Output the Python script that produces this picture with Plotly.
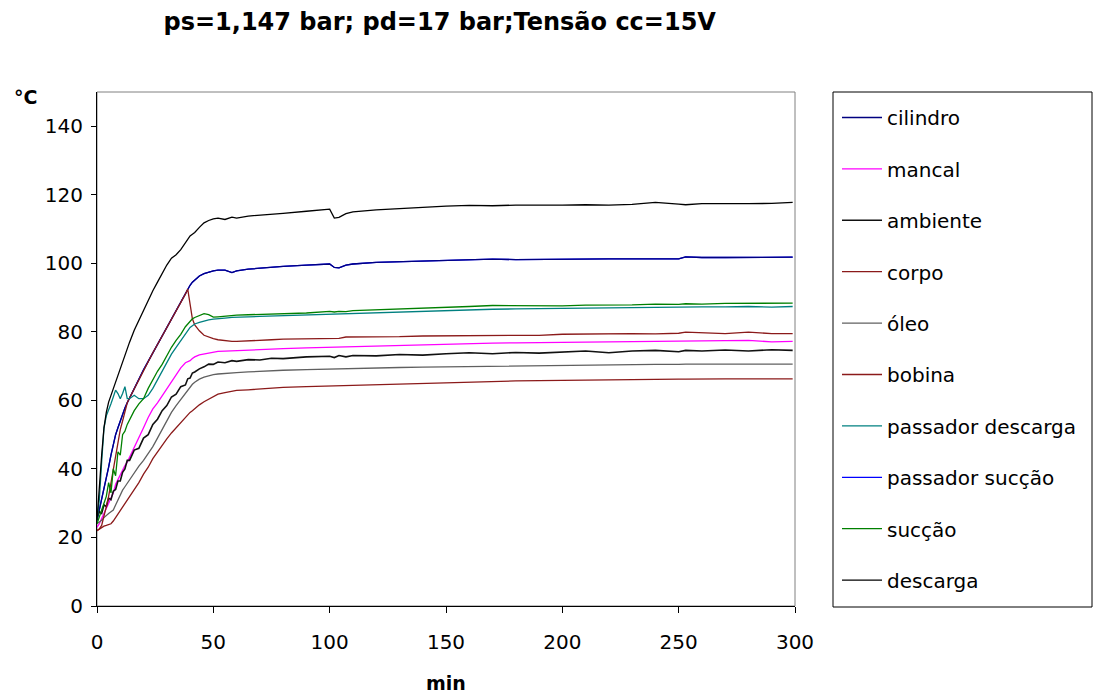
import plotly.graph_objects as go

t_min = [0,1,2,3,4,5,6,7,8,9,10,11,12,13,14,16,18,20,22,24,26,28,30,32,34,36,38,39,40,41,42,
         44,46,48,50,52,55,58,60,65,70,75,80,90,100,102,104,107,110,
         120,130,140,150,160,170,180,190,200,210,220,230,240,250,253,260,270,280,290,299]

cilindro = [25,28,31,34,37,40.5,44,47,50,52,54,56,57.8,59.3,60.7,
            63.4,66.2,68.9,71.4,73.9,76.3,78.7,81.2,83.6,86.1,88.5,91,
            92.4,93.6,94.5,95.2, 96.3,97,97.5,97.8,98,
            98,97.3,97.8,98.3,98.6,98.9,99.1,99.5,99.8, 98.8,98.7,99.5,99.8,
            100.3,100.5,100.8,101,101.1,101.2,101.1,101.2,101.3,101.3,101.3,101.3,101.3,101.3,
            101.9, 101.7,101.7,101.7,101.8,101.8]

mancal = [23,24,25.5,27,28.5,30,31.5,33,35.5,37,38.5,39.6,41,42,43.5,
          46.5,49.5,52,55,57.5,59.3,61.3,63.5,65.5,67.5,69.5,71,
          71.3,71.6,72.2,72.7, 73.3,73.6,73.9,74.1,74.3,
          74.4,74.5,74.6,74.7,74.8,75,75.1,75.3,75.5, 75.4,75.6,75.5,75.7,
          75.9,76,76.2,76.4,76.6,76.7,76.8,76.8,76.9,77,77.1,77.2,77.3,77.4,
          77.3, 77.3,77.4,77.5,77.1,77.2]

ambiente = [26,27.5,27,29.5,29,31.5,31,33.5,34,36.5,36.5,39,40,42.5,42.5,
            45.5,46,49,50,53,54.5,57,58.5,61,61.8,64,64.5,
            66.3,66.5,68,68.3, 69.2,69.8,70.6,70.5,71.2,
            71,71.6,71.4,71.9,71.8,72.3,72.2,72.7,72.9, 72.5,73.1,72.7,73.1,
            73,73.4,73.2,73.6,73.9,73.6,74,73.8,74.2,74.4,73.9,74.4,74.6,74.2,
            74.6, 74.4,74.7,74.4,74.8,74.6]

corpo = [22,22.5,23,23.3,23.5,23.8,24,24.8,25.8,27,28,29,30,31,32,
         34.2,36,38.5,40.5,43,45,47,48.8,50.5,52,53.8,55.2,
         55.8,56.5,57,57.6, 58.7,59.6,60.4,61.2,61.8,
         62.3,62.6,62.9,63.1,63.4,63.6,63.8,64,64.2, 64.3,64.3,64.4,64.5,
         64.6,64.8,65,65.2,65.4,65.6,65.7,65.8,65.9,66,66,66.1,66.1,66.2,
         66.2, 66.3,66.3,66.3,66.3,66.3]

oleo = [24,24.5,25,25.8,26.5,27,27.5,28,29.5,31,32.5,33.8,34.8,35.8,37,
        39,40.8,42.5,44.5,46.5,49,51.5,54,56.5,58.5,60.3,62.2,
        63,64,64.7,65.3, 66.2,66.8,67.2,67.5,67.7,
        67.9,68,68.1,68.3,68.5,68.7,68.8,69,69.2, 69.2,69.2,69.3,69.4,
        69.5,69.6,69.7,69.8,69.9,70,70.1,70.2,70.3,70.3,70.4,70.4,70.5,70.5,
        70.6, 70.6,70.6,70.8,70.6,70.6]

bobina = [22,22.5,23.5,26,29,32,36,40,44,48,51.5,54,57,59.3,60.7,
          63.4,66.2,68.9,71.4,73.9,76.3,78.7,81.2,83.6,86.1,88.5,91,
          92.5,88.5,83.8,82, 80.3,79,78.4,78,77.7,
          77.4,77.2,77.2,77.3,77.5,77.7,77.9,78,78.1, 78.1,78.1,78.5,78.5,
          78.5,78.6,78.8,78.8,78.8,78.8,78.9,79,79.3,79.4,79.4,79.5,79.4,79.6,
          79.9, 79.8,79.5,79.9,79.5,79.5]

passador_descarga = [25,31,42,52,55.5,57,59,61,63,62,60.5,62,64,60.5,60.5,
                     61.5,60.5,60.5,61.5,63.5,66,68.5,71.3,73.5,75.5,77.5,79.5,
                     80.5,81.3,81.8,82.3, 82.8,83.2,83.5,83.7,83.9,
                     84,84.2,84.2,84.4,84.5,84.6,84.7,85,85.3, 85.3,85.4,85.4,85.5,
                     85.7,85.9,86.1,86.3,86.5,86.6,86.7,86.8,86.9,87,87.1,87.1,87.2,87.2,
                     87.3, 87.3,87.3,87.4,87.2,87.4]

passador_succao = [25,28,31,34,37,40.5,44,47,50,52,54,56,57.8,59.3,60.7,
                   63.4,66.2,68.9,71.4,73.9,76.3,78.7,81.2,83.6,86.1,88.5,91,
                   92.4,93.6,94.5,95.2, 96.3,97,97.5,97.8,98,
                   98,97.3,97.8,98.3,98.6,98.9,99.1,99.5,99.8, 98.8,98.7,99.5,99.8,
                   100.3,100.5,100.8,101,101.1,101.2,101.1,101.2,101.3,101.3,101.3,101.3,101.3,101.3,
                   101.9, 101.7,101.7,101.7,101.8,101.8]

succao = [24,26,28,30,32,36,33,40,38,45,44,50,51,53,54.5,
          57,59,60.5,63.5,66,68.5,70.5,73,75.5,77.5,79.3,81.5,
          82.3,83,83.8,84.2, 84.8,85.3,85,84.3,84.4,
          84.6,84.8,84.9,85,85.1,85.1,85.2,85.5,86, 85.8,86,85.9,86.2,
          86.4,86.6,86.9,87.2,87.4,87.7,87.6,87.7,87.6,87.8,87.8,87.9,88.1,88,
          88.2, 88.1,88.3,88.3,88.4,88.4]

descarga = [25,36,44,52,56.5,59.5,61.5,63.5,65.5,67.5,69.5,71.5,73.5,75,77,
            80.5,83.5,86,89,92,94.5,97,99.5,101.5,102.5,104,106,
            107,108,108.5,109, 110.5,111.8,112.5,113,113.2,
            112.8,113.5,113.2,113.8,114,114.3,114.6,115.2,115.8, 113.2,113.4,114.5,115,
            115.6,116,116.4,116.7,116.9,116.8,117,116.9,117,117.1,117,117.2,117.8,117.3,
            117.1, 117.4,117.3,117.4,117.5,117.8]

# (name, values, color, width, legend rank) -- drawing order
series = [
    ("passador sucção", passador_succao, "#0000FF", 1.3, 8),
    ("cilindro", cilindro, "#000080", 1.3, 1),
    ("mancal", mancal, "#FF00FF", 1.3, 2),
    ("ambiente", ambiente, "#111111", 1.6, 3),
    ("corpo", corpo, "#8B1A1A", 1.3, 4),
    ("óleo", oleo, "#606060", 1.3, 5),
    ("bobina", bobina, "#8B1A1A", 1.3, 6),
    ("passador descarga", passador_descarga, "#008080", 1.3, 7),
    ("sucção", succao, "#008000", 1.3, 9),
    ("descarga", descarga, "#000000", 1.3, 10),
]

FONT = "DejaVu Sans"
PW, PH = 698, 514  # plot area size in px

fig = go.Figure()
for name, vals, color, w, rank in series:
    fig.add_trace(go.Scatter(
        x=t_min, y=vals, mode="lines", name=name,
        line=dict(color=color, width=w),
        legendgroup=name, legendrank=rank,
    ))

fig.update_layout(
    width=1094, height=693,
    margin=dict(l=97, r=299, t=92, b=87),
    paper_bgcolor="white", plot_bgcolor="white",
    font=dict(family=FONT, size=20, color="black"),
    title=dict(text="<b>ps=1,147 bar; pd=17 bar;Tensão cc=15V</b>",
               x=0.491, xref="paper", xanchor="center",
               y=1 - 22/693, yref="container", yanchor="middle",
               font=dict(family=FONT, size=24, color="black")),
    showlegend=True,
    legend=dict(x=(837-97)/PW, xanchor="left", y=(606-98)/PH, yanchor="top",
                bgcolor="rgba(0,0,0,0)", borderwidth=0,
                font=dict(family=FONT, size=20, color="black"),
                traceorder="grouped", tracegroupgap=22.4, itemwidth=40,
                maxheight=600),
    xaxis=dict(range=[0, 300], dtick=50, tick0=0, showgrid=False, zeroline=False,
               showline=True, linecolor="black", linewidth=1,
               ticks="outside", ticklen=6, tickcolor="black",
               tickfont=dict(family=FONT, size=20), ticklabelstandoff=12),
    yaxis=dict(range=[0, 150], tickvals=[0,20,40,60,80,100,120,140], showgrid=False, zeroline=False,
               showline=True, linecolor="black", linewidth=1,
               ticks="outside", ticklen=5, tickcolor="black",
               tickfont=dict(family=FONT, size=20), ticklabelstandoff=4),
    shapes=[
        dict(type="rect", xref="paper", yref="paper", x0=0, y0=0, x1=1, y1=1,
             line=dict(color="#808080", width=1), layer="below"),
        dict(type="rect", xref="paper", yref="paper",
             x0=(833-97)/PW, x1=(1092-97)/PW, y0=(606-607)/PH, y1=1.0,
             line=dict(color="black", width=1), fillcolor="rgba(0,0,0,0)", layer="below"),
    ],
    annotations=[
        dict(text="<b>°C</b>", xref="paper", yref="paper", x=(12-97)/PW, y=(606-97)/PH,
             xanchor="left", yanchor="middle", showarrow=False,
             font=dict(family=FONT, size=19, color="black")),
        dict(text="<b>min</b>", xref="paper", yref="paper", x=0.5, y=(606-683)/PH,
             xanchor="center", yanchor="middle", showarrow=False,
             font=dict(family=FONT, size=19, color="black")),
    ],
)

fig.write_html("out.html")
